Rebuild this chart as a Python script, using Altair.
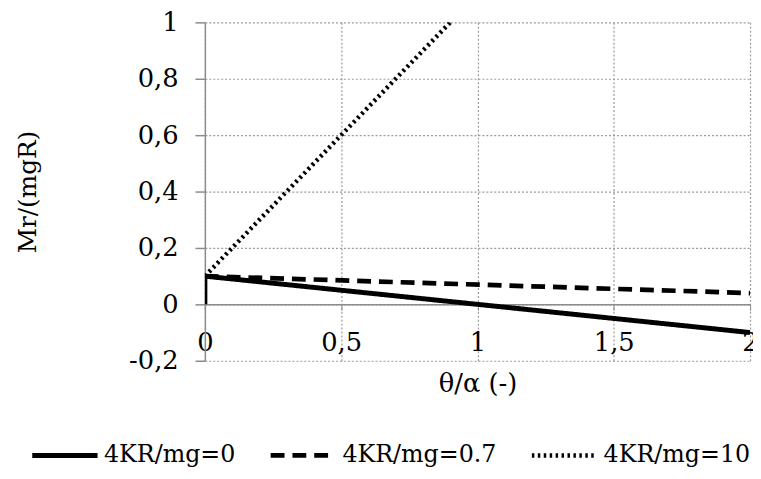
import altair as alt
import pandas as pd

series_names = ["4KR/mg=0", "4KR/mg=0.7", "4KR/mg=10"]
solid_x = [0.0, 0.0, 2.0]
solid_y = [0.0, 0.1, -0.1]
dash_x = [0.0, 2.0]
dash_y = [0.1, 0.04]
dot_x = [0.0, 0.9]
dot_y = [0.1, 1.0]

x_ticks = [0, 0.5, 1, 1.5, 2]
y_ticks = [-0.2, 0, 0.2, 0.4, 0.6, 0.8, 1]

rows = []
for name, xs, ys in [(series_names[0], solid_x, solid_y),
                     (series_names[1], dash_x, dash_y),
                     (series_names[2], dot_x, dot_y)]:
    for i, (xv, yv) in enumerate(zip(xs, ys)):
        rows.append({"series": name, "x": xv, "y": yv, "order": i})
df = pd.DataFrame(rows)

FONT = "DejaVu Serif"
FS = 26
label_expr = "replace(toString(datum.value), '.', ',')"

chart = alt.Chart(df).mark_line(color="black", clip=True).encode(
    x=alt.X("x:Q", scale=alt.Scale(domain=[0, 2], nice=False, zero=False),
            axis=alt.Axis(values=x_ticks, labelExpr=label_expr, offset=-57,
                          title="θ/α (-)", titleFont=FONT, titleFontSize=FS,
                          titleFontWeight="normal", titleColor="black",
                          titleBaseline="alphabetic", titleY=88,
                          labelFont=FONT, labelFontSize=FS, labelColor="black",
                          labelPadding=20, tickSize=6, tickColor="#8c8c8c",
                          domainColor="#8c8c8c", domainWidth=1.5,
                          grid=True, gridColor="#9a9a9a", gridDash=[2, 2],
                          gridWidth=1.2, labelFlush=False, labelOverlap=False)),
    y=alt.Y("y:Q", scale=alt.Scale(domain=[-0.2, 1], nice=False, zero=False),
            axis=alt.Axis(values=y_ticks, labelExpr=label_expr,
                          title="Mr/(mgR)", titleFont=FONT, titleFontSize=25,
                          titleFontWeight="normal", titleColor="black",
                          titleBaseline="alphabetic", titleX=-171, titleY=171,
                          labelFont=FONT, labelFontSize=FS, labelColor="black",
                          labelPadding=17, tickSize=10, tickColor="#8c8c8c",
                          tickWidth=1.5, domainColor="#8c8c8c", domainWidth=1.5,
                          grid=True, gridColor="#9a9a9a", gridDash=[2, 2],
                          gridWidth=1.2, labelOverlap=False)),
    order="order:Q",
    strokeDash=alt.StrokeDash("series:N",
                              scale=alt.Scale(domain=series_names,
                                              range=[[1, 0], [14, 8], [2.5, 3.5]]),
                              legend=alt.Legend(title=None)),
    strokeWidth=alt.StrokeWidth("series:N",
                                scale=alt.Scale(domain=series_names,
                                                range=[5, 4.5, 2.5]),
                                legend=alt.Legend(title=None)),
).properties(
    width=551, height=342,
    autosize=alt.AutoSizeParams(type="none"),
    padding={"left": 199, "top": 12, "right": 3, "bottom": 117},
).configure(font=FONT).configure_view(stroke=None).configure_legend(
    orient="none", legendX=-177, legendY=402, direction="horizontal",
    symbolType="stroke", symbolSize=4356, symbolStrokeColor="black",
    labelFont=FONT, labelFontSize=24, labelColor="black", labelOffset=4,
    columnPadding=26, labelLimit=400,
)

chart.save("out.html", embed_options={"renderer": "svg", "actions": False})
